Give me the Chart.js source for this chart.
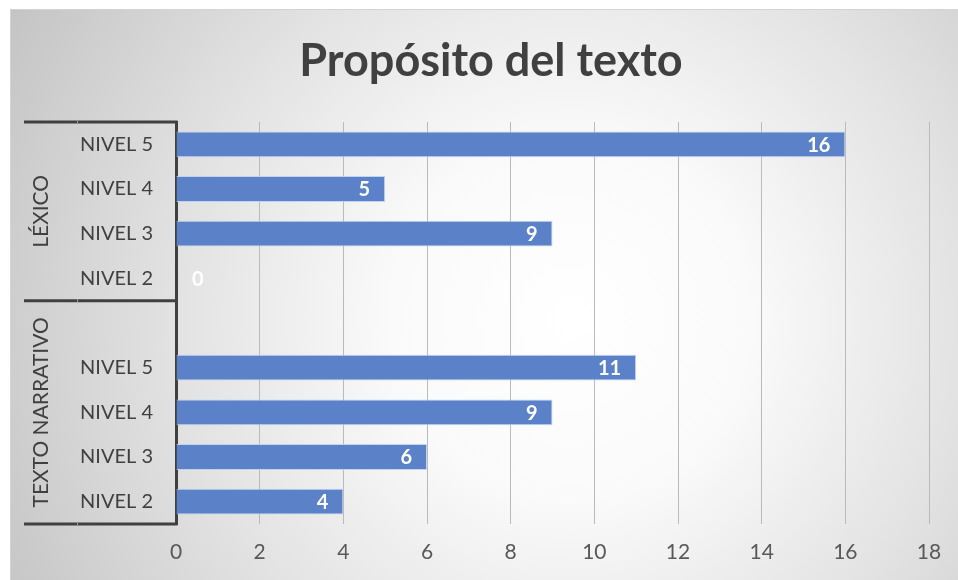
<!DOCTYPE html>
<html lang="es">
<head>
  <meta charset="UTF-8">
  <title>Propósito del texto</title>
  <style>
    body {
      margin: 0;
      background: #ffffff;
    }
    canvas {
      display: block;
    }
  </style>
</head>
<body>
  <canvas id="chart" width="958" height="580"></canvas>

  <script src="https://cdn.jsdelivr.net/npm/chart.js"></script>
  <script>
    // categorías de arriba hacia abajo (la fila vacía separa los grupos)
    const niveles = ["NIVEL 5", "NIVEL 4", "NIVEL 3", "NIVEL 2", "", "NIVEL 5", "NIVEL 4", "NIVEL 3", "NIVEL 2"];
    const grupos = ["LÉXICO", "TEXTO NARRATIVO"];
    const filasPorGrupo = [4, 5];
    const valores = [16, 5, 9, 0, null, 11, 9, 6, 4];
    const ejeMax = 18;
    const ejePaso = 2;

    const fuente = "Lato, 'Open Sans', sans-serif";
    const oscuro = "#404040";

    // fondo con degradado radial y marco
    const fondo = {
      id: "fondo",
      beforeDraw(chart) {
        const c = chart.ctx;
        c.save();
        c.fillStyle = "#ffffff";
        c.fillRect(0, 0, chart.width, chart.height);
        const g = c.createRadialGradient(570, 320, 0, 570, 320, 640);
        g.addColorStop(0, "#ffffff");
        g.addColorStop(0.28, "#fafafa");
        g.addColorStop(0.62, "#e2e2e2");
        g.addColorStop(1, "#c4c4c4");
        c.fillStyle = g;
        c.fillRect(10, 9, chart.width - 10, chart.height - 9);
        c.strokeStyle = "#d4d4d4";
        c.lineWidth = 1;
        c.beginPath();
        c.moveTo(10.5, chart.height);
        c.lineTo(10.5, 9.5);
        c.lineTo(chart.width, 9.5);
        c.stroke();
        c.restore();
      }
    };

    // eje de categorías en dos niveles: líneas y nombres de grupo
    const ejeGrupos = {
      id: "ejeGrupos",
      afterDraw(chart) {
        const c = chart.ctx;
        const y = chart.scales.y;
        const area = chart.chartArea;
        const x0 = 24;
        c.save();
        c.strokeStyle = oscuro;
        c.lineWidth = 3;

        const cortes = [area.top];
        let idx = 0;
        filasPorGrupo.forEach(n => {
          idx += n;
          cortes.push(idx < niveles.length ? y.getPixelForValue(idx - 0.5) : area.bottom);
        });

        cortes.forEach(py => {
          c.beginPath();
          c.moveTo(x0, py);
          c.lineTo(area.left + 1.5, py);
          c.stroke();
        });

        // pequeña división clara entre los dos niveles
        c.strokeStyle = "#9a9a9a";
        c.lineWidth = 1;
        cortes.forEach(py => {
          c.beginPath();
          c.moveTo(77.5, py - 1.5);
          c.lineTo(77.5, py + 1.5);
          c.stroke();
        });

        c.fillStyle = oscuro;
        c.font = "21px " + fuente;
        c.textAlign = "center";
        c.textBaseline = "middle";
        grupos.forEach((nombre, i) => {
          const medio = (cortes[i] + cortes[i + 1]) / 2;
          c.save();
          c.translate(41, medio);
          c.rotate(-Math.PI / 2);
          c.fillText(nombre, 0, 0);
          c.restore();
        });
        c.restore();
      }
    };

    // valores en blanco al final de cada barra
    const etiquetas = {
      id: "etiquetas",
      afterDatasetsDraw(chart) {
        const c = chart.ctx;
        const meta = chart.getDatasetMeta(0);
        c.save();
        c.font = "bold 20px " + fuente;
        c.fillStyle = "#ffffff";
        c.textAlign = "right";
        c.textBaseline = "middle";
        meta.data.forEach((bar, i) => {
          const v = valores[i];
          if (v === null) return;
          const txt = String(v);
          const w = c.measureText(txt).width;
          const x = Math.max(bar.x - 15, bar.base + 16 + w);
          c.fillText(txt, x, bar.y + 1);
        });
        c.restore();
      }
    };

    new Chart(document.getElementById("chart"), {
      type: "bar",
      data: {
        labels: niveles,
        datasets: [{
          data: valores,
          backgroundColor: "#5b82c9",
          borderColor: "rgba(190, 208, 238, 0.9)",
          borderWidth: 1,
          categoryPercentage: 0.58,
          barPercentage: 1
        }]
      },
      options: {
        indexAxis: "y",
        responsive: false,
        animation: false,
        layout: { padding: { left: 53, right: 29, top: 0, bottom: 0 } },
        plugins: {
          legend: { display: false },
          tooltip: { enabled: false },
          title: {
            display: true,
            text: "Propósito del texto",
            color: oscuro,
            font: { family: fuente, size: 45, weight: "bold", lineHeight: 1.2 },
            padding: { top: 34, bottom: 34 }
          }
        },
        scales: {
          x: {
            min: 0,
            max: ejeMax,
            ticks: {
              stepSize: ejePaso,
              color: "#595959",
              font: { family: fuente, size: 21 },
              padding: 16
            },
            grid: { color: "#bababa", lineWidth: 1, drawTicks: false, tickLength: 0 },
            border: { display: false },
            afterFit(scale) { scale.height = 56; }
          },
          y: {
            ticks: {
              color: oscuro,
              font: { family: fuente, size: 20 },
              padding: 23,
              autoSkip: false
            },
            grid: { display: false, drawTicks: false, tickLength: 0 },
            border: { display: true, color: oscuro, width: 3 },
            afterFit(scale) { scale.width = 123; }
          }
        }
      },
      plugins: [fondo, ejeGrupos, etiquetas]
    });
  </script>
</body>
</html>
